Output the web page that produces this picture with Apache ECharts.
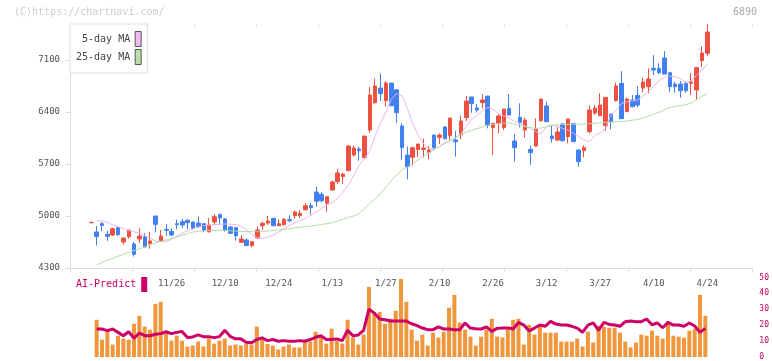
<!DOCTYPE html>
<html><head><meta charset="utf-8">
<script src="https://cdn.jsdelivr.net/npm/echarts@6/dist/echarts.min.js"></script>
<style>html,body{margin:0;padding:0;background:#fff}#c{width:772px;height:361px}</style>
</head><body><div id="c"></div>
<script>
const dates = ['11/5','11/6','11/7','11/8','11/11','11/12','11/13','11/14','11/15','11/18','11/19','11/20','11/21','11/22','11/25','11/26','11/27','11/28','11/29','12/2','12/3','12/4','12/5','12/6','12/9','12/10','12/11','12/12','12/13','12/16','12/17','12/18','12/19','12/20','12/23','12/24','12/25','12/26','12/27','12/30','1/6','1/7','1/8','1/9','1/10','1/13','1/14','1/15','1/16','1/17','1/20','1/21','1/22','1/23','1/24','1/27','1/28','1/29','1/30','1/31','2/3','2/4','2/5','2/6','2/7','2/10','2/12','2/13','2/14','2/17','2/18','2/19','2/20','2/21','2/25','2/26','2/27','2/28','3/3','3/4','3/5','3/6','3/7','3/10','3/11','3/12','3/13','3/14','3/17','3/18','3/19','3/21','3/24','3/25','3/26','3/27','3/28','3/31','4/1','4/2','4/3','4/4','4/7','4/8','4/9','4/10','4/11','4/14','4/15','4/16','4/17','4/18','4/21','4/22','4/23','4/24'];
const dateLabels = ['11/26','12/10','12/24','1/13','1/27','2/10','2/26','3/12','3/27','4/10','4/24'];
const priceTicks = [4300, 5000, 5700, 6400, 7100];

const openP = [4910,4785,4897,4753,4744,4843,4650,4722,4623,4690,4722,4628,5000,4668,4820,4794,4897,4924,4942,4919,4906,4897,4785,4919,5018,4960,4852,4843,4646,4677,4601,4704,4870,4906,4969,4870,4883,4951,5005,5005,5085,5139,5323,5292,5171,5350,5462,5530,5610,5821,5902,5785,6158,6526,6723,6553,6790,6700,6212,5821,5790,5897,5897,5857,6090,6059,6198,6082,6023,6095,6324,6602,6454,6526,6615,6189,6248,6189,6449,6010,6328,6158,5897,5942,6283,6481,6077,6023,6239,6068,6243,5888,5879,6136,6387,6351,6216,6373,6553,6786,6405,6562,6624,6723,6741,6988,6988,7127,6929,6777,6777,6786,6786,6696,7091,7190];
const closeP = [4915,4722,4874,4726,4830,4749,4704,4812,4484,4731,4583,4664,4888,4731,4807,4744,4883,4879,4910,4834,4856,4803,4879,4991,4973,4807,4767,4735,4690,4601,4655,4812,4901,4933,4870,4897,4955,4937,5054,5036,5139,5112,5198,5206,5260,5458,5579,5565,5942,5915,5880,6077,6629,6750,6647,6790,6485,6391,5920,5664,5920,5969,5915,5888,5920,6090,6041,6319,6001,6279,6548,6512,6427,6562,6225,6248,6346,6441,6360,5920,6261,6292,5853,6167,6575,6270,6041,6131,6014,6306,6001,5732,5920,6427,6454,6494,6597,6270,6750,6310,6575,6472,6494,6804,6844,6965,6929,6911,6741,6741,6687,6687,6804,6996,7194,7477];
const lowP = [4910,4601,4798,4664,4731,4735,4614,4695,4453,4637,4578,4560,4780,4650,4731,4731,4821,4834,4821,4812,4843,4780,4785,4879,4879,4789,4758,4668,4641,4601,4578,4690,4812,4879,4861,4870,4874,4915,4964,4973,5072,5018,5126,5180,5058,5346,5431,5431,5610,5799,5745,5772,6122,6512,6548,6472,6485,6252,5754,5494,5678,5790,5790,5763,5893,5969,6032,6023,5799,6032,6279,6391,6391,6449,6180,5821,6113,6158,6360,5732,6194,6055,5691,5933,6270,6270,5987,6010,6001,5978,6001,5664,5790,6113,6360,6351,6149,6167,6539,6310,6405,6463,6463,6665,6651,6898,6911,6911,6665,6660,6593,6660,6629,6561,7010,7154];
const highP = [4915,4865,4919,4803,4843,4856,4704,4812,4650,4834,4767,4785,5000,4812,4892,4834,4951,4960,4955,4928,4991,4906,4973,5027,5036,4973,4865,4856,4744,4700,4655,4865,4928,5000,4973,4955,4973,5009,5072,5081,5175,5180,5395,5323,5260,5480,5633,5583,5951,5951,5933,6077,6737,6849,6920,6817,6790,6700,6248,5934,5934,5969,6041,5942,6090,6113,6212,6319,6144,6355,6615,6602,6508,6642,6615,6248,6369,6441,6642,6104,6517,6328,5951,6315,6575,6539,6212,6194,6248,6306,6243,5897,5951,6494,6494,6651,6597,6373,6795,6948,6593,6629,6750,6862,6988,7167,7055,7221,6943,6808,6817,6808,6921,7010,7288,7585];

const ma5 = ['-',4937,4933,4915,4880,4855,4830,4805,4785,4770,4735,4700,4660,4655,4655,4685,4730,4770,4800,4830,4852,4870,4880,4883,4888,4892,4890,4885,4860,4812,4750,4705,4700,4720,4745,4785,4830,4875,4910,4940,4965,5010,5050,5100,5150,5180,5240,5320,5420,5550,5680,5770,5880,6080,6250,6400,6570,6650,6620,6449,6248,6090,5978,5911,5888,5942,5987,6014,6046,6104,6212,6301,6351,6418,6463,6436,6382,6346,6324,6270,6248,6212,6180,6135,6104,6212,6225,6203,6180,6158,6113,6068,6023,6001,6081,6122,6180,6360,6427,6517,6539,6548,6562,6615,6674,6750,6822,6867,6885,6876,6849,6804,6817,6898,6965,7042];
const ma25 = ['-',4340,4372,4405,4430,4458,4485,4510,4535,4560,4585,4612,4638,4658,4677,4700,4720,4742,4765,4785,4795,4803,4806,4806,4806,4804,4800,4797,4793,4790,4789,4789,4792,4798,4805,4812,4820,4830,4840,4850,4858,4866,4875,4885,4897,4912,4930,4955,4978,5000,5036,5100,5170,5230,5300,5390,5475,5555,5620,5660,5705,5754,5805,5850,5893,5935,5975,6014,6059,6100,6131,6153,6176,6198,6221,6234,6243,6252,6252,6239,6221,6203,6190,6180,6185,6200,6218,6225,6230,6234,6234,6234,6239,6243,6248,6257,6261,6265,6270,6274,6279,6290,6300,6320,6345,6372,6396,6428,6460,6476,6488,6497,6522,6566,6608,6651];

const predictBars = [23.4,10.9,16.1,7.8,13.4,11.6,10.9,20.9,25.9,19.1,17.2,33.4,34.7,16.1,10.3,13.4,10.3,6.6,7.2,9.7,6.6,11.6,8.4,10.3,11.6,7.2,7.8,7.2,8.4,7.8,19.1,11.4,8.2,7.2,4.7,6.6,7.8,6.0,6.0,10.3,9.7,15.9,13.4,8.4,17.8,10.3,8.4,23.4,12.4,7.8,14.1,44.1,27.2,28.4,20.9,24.1,29.1,49.1,34.7,17.2,10.3,14.1,7.2,15.3,12.2,15.9,31.0,39.1,21.6,17.2,12.8,7.2,12.8,17.2,24.1,12.8,12.3,17.5,23.4,24.1,7.8,20.3,14.1,19.7,15.3,15.3,15.3,9.7,9.7,9.7,11.6,6.6,15.9,9.1,19.7,19.1,18.4,18.4,15.3,9.7,6.0,9.1,14.1,13.4,16.6,13.4,11.6,22.2,13.4,12.8,12.2,16.6,17.8,39.1,25.9];
const predictLine = [17.6,17.6,16.6,17.6,15.5,13.4,15.9,11.8,15.1,13.4,13.4,14.3,14.7,15.9,14.7,15.5,16.1,12.2,12.6,13.9,12.8,12.8,12.2,12.8,16.8,13.0,11.4,11.4,9.3,8.9,11.0,12.0,10.3,11.0,9.9,10.3,9.9,9.9,10.3,9.9,11.0,12.4,13.4,11.0,11.0,11.4,10.3,16.8,13.4,13.9,16.8,30.1,27.6,23.9,23.4,22.6,22.6,22.6,22.6,20.9,19.7,18.2,17.2,17.2,18.9,17.6,17.6,17.2,17.2,21.4,18.2,17.8,17.6,18.9,16.1,18.0,18.3,18.3,17.6,21.8,20.1,16.4,18.2,20.1,19.3,22.4,20.7,20.1,20.1,19.3,18.2,15.5,20.1,21.4,16.8,21.8,20.5,20.1,19.3,22.2,22.6,22.2,22.2,23.9,20.3,21.4,18.4,21.8,20.1,20.1,19.3,21.4,19.5,15.5,18.0];

const FONT = "'DejaVu Sans Mono', monospace";
const candleData = dates.map((d, i) => [openP[i], closeP[i], lowP[i], highP[i]]);
const barData = ['-'].concat(predictBars);
const lineData = ['-'].concat(predictLine);

const PL = 91.3, PW = 616;
const chart = echarts.init(document.getElementById('c'), null, {renderer: 'canvas'});
chart.setOption({
  animation: false,
  backgroundColor: '#fff',
  title: [
    {text: '(C)https://chartnavi.com/', left: 14, top: 7, padding: 0,
     textStyle: {color: '#cccccc', fontSize: 10, fontWeight: 'normal', fontFamily: FONT}},
    {text: '6890', right: 15, top: 7, padding: 0,
     textStyle: {color: '#aaaaaa', fontSize: 10, fontWeight: 'normal', fontFamily: FONT}}
  ],
  legend: [
    {orient: 'vertical', left: 70, top: 24, align: 'right', icon: 'rect',
     itemWidth: 6, itemHeight: 15, itemGap: 2, padding: [7, 6, 8, 6],
     borderColor: '#dddddd', borderWidth: 1, backgroundColor: '#fff', selectedMode: false,
     textStyle: {color: '#444', fontSize: 10, fontFamily: FONT},
     data: [
       {name: '5-day MA', itemStyle: {color: '#f0b8f0', borderColor: '#555', borderWidth: 1}},
       {name: '25-day MA', itemStyle: {color: '#b8e0a8', borderColor: '#555', borderWidth: 1}}
     ]},
    {orient: 'horizontal', left: 70, top: 277, align: 'right', icon: 'rect',
     itemWidth: 6, itemHeight: 15, padding: [0, 6, 0, 6], selectedMode: false,
     textStyle: {color: '#cc0066', fontSize: 10, fontFamily: FONT},
     data: [{name: 'AI-Predict', itemStyle: {color: '#cc0066', borderWidth: 0}}]}
  ],
  grid: [
    {left: 70, right: 20, top: 24, height: 244},
    {left: PL, width: PW, top: 24, height: 244},
    {left: PL, width: PW, top: 277.5, height: 80}
  ],
  xAxis: [
    {gridIndex: 0, type: 'value', min: 0, max: 11, interval: 1,
     axisLine: {show: true, lineStyle: {color: '#dddddd'}},
     axisTick: {show: true, length: 4, lineStyle: {color: '#dddddd'}},
     axisLabel: {show: false}, splitLine: {show: false}},
    {gridIndex: 0, type: 'value', min: 0, max: 11, interval: 1,
     axisLine: {show: false},
     axisTick: {show: true, inside: true, length: 3, lineStyle: {color: '#dddddd'}},
     axisLabel: {show: false}, splitLine: {show: false}},
    {gridIndex: 1, type: 'category', data: dates, boundaryGap: false,
     axisLine: {show: false}, axisTick: {show: false}, splitLine: {show: false},
     axisLabel: {interval: (i, v) => dateLabels.includes(v), margin: 11,
       color: '#555', fontSize: 9, fontFamily: FONT}},
    {gridIndex: 2, type: 'category', data: dates, boundaryGap: false, show: false}
  ],
  yAxis: [
    {gridIndex: 0, type: 'value', min: 4300, max: 7585, interval: 700,
     axisLine: {show: true, lineStyle: {color: '#dddddd'}},
     axisTick: {show: true, length: 5, customValues: priceTicks, lineStyle: {color: '#dddddd'}},
     axisLabel: {customValues: priceTicks, formatter: v => String(v), color: '#555', fontSize: 9, fontFamily: FONT, margin: 10},
     splitLine: {show: false}},
    {gridIndex: 0, type: 'value', min: 4300, max: 7585, interval: 700,
     axisLine: {show: false},
     axisTick: {show: true, inside: true, length: 3, customValues: priceTicks, lineStyle: {color: '#dddddd'}},
     axisLabel: {show: false}, splitLine: {show: false}},
    {gridIndex: 1, type: 'value', min: 4300, max: 7585, show: false},
    {gridIndex: 2, type: 'value', min: 0, max: 50, interval: 10, position: 'right', offset: 45,
     axisLine: {show: false}, axisTick: {show: false}, splitLine: {show: false},
     axisLabel: {color: '#cc0066', fontSize: 8, fontFamily: FONT, margin: 9}}
  ],
  series: [
    {type: 'candlestick', name: 'Price', xAxisIndex: 2, yAxisIndex: 2, data: candleData, barWidth: 4,
     itemStyle: {color: '#f05040', color0: '#4080f0', borderColor: '#f05040', borderColor0: '#4080f0', borderWidth: 1}},
    {type: 'line', name: '5-day MA', xAxisIndex: 2, yAxisIndex: 2, data: ma5, symbol: 'none',
     lineStyle: {color: '#ecb4ec', width: 1}, itemStyle: {color: '#ecb4ec'}},
    {type: 'line', name: '25-day MA', xAxisIndex: 2, yAxisIndex: 2, data: ma25, symbol: 'none',
     lineStyle: {color: '#b4dca4', width: 1}, itemStyle: {color: '#b4dca4'}},
    {type: 'bar', name: 'Volume', xAxisIndex: 3, yAxisIndex: 3, data: barData, barWidth: 4,
     itemStyle: {color: '#f0963c'}},
    {type: 'line', name: 'AI-Predict', xAxisIndex: 3, yAxisIndex: 3, data: lineData, symbol: 'none',
     lineStyle: {color: '#cc0066', width: 3}, itemStyle: {color: '#cc0066'}}
  ]
});
</script></body></html>
